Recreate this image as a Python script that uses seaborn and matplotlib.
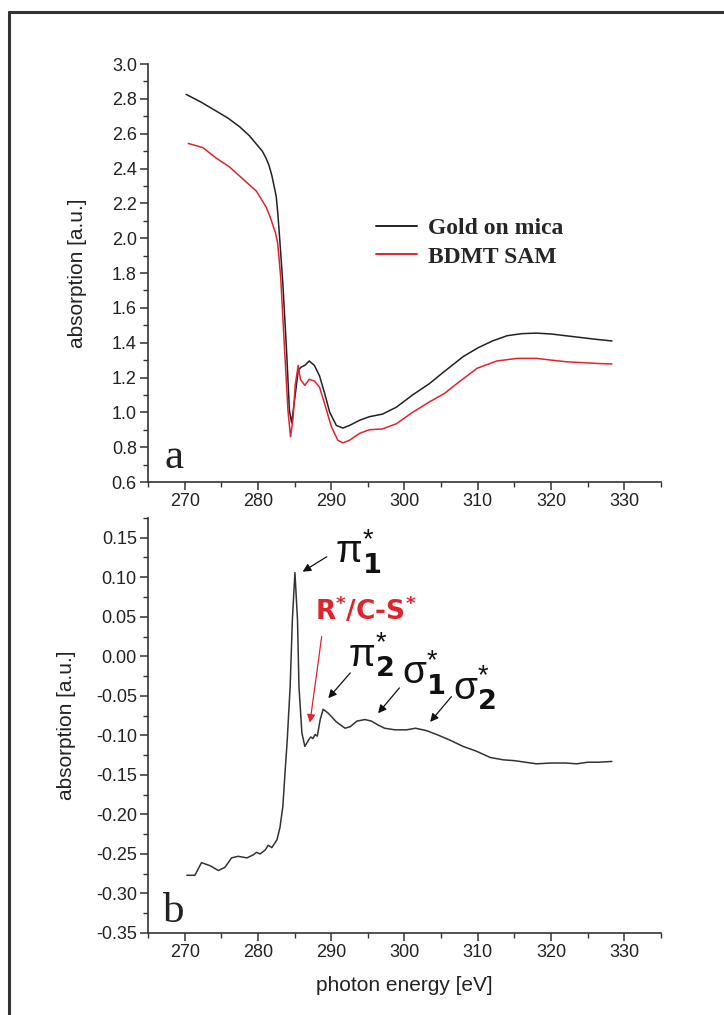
import numpy as np
import pandas as pd
import matplotlib
matplotlib.use("Agg")
import matplotlib.pyplot as plt
from matplotlib.lines import Line2D
from matplotlib.ticker import MultipleLocator, FormatStrFormatter
import seaborn as sns

# ---- panel a: raw absorption spectra ----
gold_energy = [270.2, 272.3, 274.3, 275.9, 277.5, 278.8, 279.8, 280.6, 281.1, 281.5,
               281.9, 282.2, 282.5, 282.7, 282.95, 283.4, 283.9, 284.3, 284.6, 285.0,
               285.5, 285.9, 286.4, 287.0, 287.7, 288.4, 289.1, 289.8, 290.7, 291.6,
               292.5, 293.9, 295.2, 297.0, 298.9, 301.1, 303.4, 305.0, 306.5, 308.0,
               310.0, 312.0, 314.0, 316.0, 318.0, 320.0, 322.0, 324.0, 326.0, 328.3]
gold_absorption = [2.826, 2.78, 2.73, 2.69, 2.64, 2.59, 2.54, 2.50, 2.46, 2.42,
                   2.36, 2.30, 2.24, 2.15, 2.01, 1.74, 1.36, 1.01, 0.94, 1.07,
                   1.24, 1.26, 1.27, 1.295, 1.27, 1.21, 1.11, 1.00, 0.925, 0.91,
                   0.925, 0.955, 0.975, 0.99, 1.03, 1.10, 1.165, 1.22, 1.27, 1.32,
                   1.37, 1.41, 1.44, 1.452, 1.455, 1.45, 1.44, 1.43, 1.42, 1.41]

sam_energy = [270.5, 272.5, 274.3, 276.1, 277.95, 279.8, 281.1, 281.6, 282.0, 282.4,
              282.7, 283.1, 283.6, 284.1, 284.45, 284.8, 285.1, 285.5, 285.8, 286.4,
              287.0, 287.7, 288.4, 289.1, 290.0, 290.9, 291.6, 292.5, 293.9, 295.2,
              297.0, 298.9, 301.1, 303.4, 305.5, 307.2, 309.9, 312.6, 315.4, 318.0,
              320.0, 322.2, 324.5, 326.7, 328.3]
sam_absorption = [2.544, 2.52, 2.46, 2.41, 2.34, 2.27, 2.18, 2.13, 2.08, 2.03,
                  1.97, 1.78, 1.39, 1.01, 0.86, 0.97, 1.16, 1.27, 1.19, 1.155,
                  1.19, 1.18, 1.145, 1.05, 0.92, 0.84, 0.825, 0.84, 0.88, 0.90,
                  0.905, 0.935, 1.00, 1.06, 1.11, 1.167, 1.253, 1.295, 1.31, 1.31,
                  1.30, 1.29, 1.285, 1.28, 1.278]

series_labels = ["Gold on mica", "BDMT SAM"]

# ---- panel b: normalised difference spectrum ----
diff_energy = [270.3, 271.4, 272.3, 273.5, 274.6, 275.5, 276.4, 277.3, 278.5, 279.4,
               279.8, 280.3, 281.0, 281.4, 281.9, 282.6, 283.0, 283.4, 283.7, 284.0,
               284.4, 284.7, 285.05, 285.4, 285.6, 286.0, 286.4, 286.9, 287.2, 287.5,
               287.8, 288.1, 288.5, 288.9, 289.6, 290.7, 291.9, 292.6, 293.5, 294.6,
               295.5, 296.4, 297.3, 298.7, 300.3, 301.5, 303.0, 304.4, 306.2, 308.0,
               309.8, 311.7, 313.5, 315.0, 316.5, 318.0, 320.0, 322.0, 323.5, 325.0,
               326.5, 328.3]
diff_absorption = [-0.277, -0.277, -0.261, -0.265, -0.271, -0.267, -0.255, -0.253, -0.255, -0.251,
                   -0.248, -0.250, -0.245, -0.239, -0.242, -0.232, -0.217, -0.190, -0.147, -0.106,
                   -0.038, 0.046, 0.106, 0.046, -0.038, -0.097, -0.114, -0.106, -0.102, -0.104,
                   -0.099, -0.101, -0.080, -0.067, -0.072, -0.083, -0.091, -0.089, -0.082, -0.080,
                   -0.082, -0.087, -0.091, -0.093, -0.093, -0.091, -0.094, -0.099, -0.106, -0.114,
                   -0.120, -0.128, -0.131, -0.132, -0.134, -0.136, -0.135, -0.135, -0.136, -0.134,
                   -0.134, -0.133]

x_ticks = [270, 280, 290, 300, 310, 320, 330]

# resonance labels: (text, text x, text baseline y, arrow tail, arrow head)
resonances = [
    (r"$\pi_{\mathbf{1}}^{*}$", 290.5, 0.118, (289.4, 0.126), (286.1, 0.107)),
    (r"$\pi_{\mathbf{2}}^{*}$", 292.3, -0.013, (292.6, -0.021), (289.6, -0.053)),
    (r"$\sigma_{\mathbf{1}}^{*}$", 299.7, -0.036, (299.3, -0.040), (296.4, -0.072)),
    (r"$\sigma_{\mathbf{2}}^{*}$", 306.6, -0.055, (306.4, -0.051), (303.5, -0.083)),
]
rydberg_label = ("R$^{*}$/C-S$^{*}$", 287.8, 0.046, (288.7, 0.025), (287.1, -0.084))

# ---- styling ----
sns.set_style("ticks")
plt.rcParams["font.family"] = ["Liberation Sans", "DejaVu Sans"]
plt.rcParams["axes.unicode_minus"] = False
plt.rcParams["mathtext.fontset"] = "dejavusans"
plt.rcParams["mathtext.default"] = "regular"

ink = "#222222"
red = "#e0242c"

fig = plt.figure(figsize=(7.24, 10.15), dpi=100)
ax_a = fig.add_axes([0.2044, 0.5251, 0.7086, 0.4118])
ax_b = fig.add_axes([0.2044, 0.0808, 0.7086, 0.4089])

df_a = pd.concat([
    pd.DataFrame({"energy": gold_energy, "absorption": gold_absorption, "sample": series_labels[0]}),
    pd.DataFrame({"energy": sam_energy, "absorption": sam_absorption, "sample": series_labels[1]}),
])
sns.lineplot(data=df_a, x="energy", y="absorption", hue="sample",
             palette={series_labels[0]: ink, series_labels[1]: red},
             linewidth=1.1, sort=False, estimator=None, ax=ax_a)

df_b = pd.DataFrame({"energy": diff_energy, "absorption": diff_absorption})
sns.lineplot(data=df_b, x="energy", y="absorption", color="#333333",
             linewidth=1.1, sort=False, estimator=None, ax=ax_b)

for ax, pad in ((ax_a, 17.5), (ax_b, 14)):
    sns.despine(ax=ax)
    ax.set_xlim(265, 335)
    ax.set_xticks(x_ticks)
    ax.xaxis.set_minor_locator(MultipleLocator(5))
    for side in ("left", "bottom"):
        ax.spines[side].set_linewidth(1.2)
        ax.spines[side].set_color("#333333")
    ax.tick_params(which="major", direction="out", length=6, width=1.1,
                   color="#333333", labelsize=13, labelcolor=ink, pad=2)
    ax.tick_params(which="minor", direction="out", length=3.5, width=1.0, color="#333333")
    ax.set_ylabel("absorption [a.u.]", fontsize=15, color=ink, labelpad=pad)

ax_a.set_ylim(0.6, 3.0)
ax_a.yaxis.set_major_locator(MultipleLocator(0.2))
ax_a.yaxis.set_minor_locator(MultipleLocator(0.1))
ax_a.yaxis.set_major_formatter(FormatStrFormatter("%.1f"))
ax_a.set_xlabel("")

ax_b.set_ylim(-0.35, 0.175)
ax_b.yaxis.set_major_locator(MultipleLocator(0.05))
ax_b.yaxis.set_minor_locator(MultipleLocator(0.025))
ax_b.yaxis.set_major_formatter(FormatStrFormatter("%.2f"))
ax_b.set_xlabel("photon energy [eV]", fontsize=15, color=ink, labelpad=11)

leg = ax_a.legend(loc="upper left", bbox_to_anchor=(0.444, 0.633), frameon=False,
                  borderpad=0, borderaxespad=0, handlelength=1.75, handletextpad=0.45,
                  labelspacing=0.3, prop={"family": "Liberation Serif", "weight": "bold", "size": 17})
for line in leg.get_lines():
    line.set_linewidth(1.4)

# panel letters
ax_a.text(267.3, 0.68, "a", family="Liberation Serif", fontsize=31, color=ink, va="baseline")
ax_b.text(267.0, -0.336, "b", family="Liberation Serif", fontsize=31, color=ink, va="baseline")

# resonance annotations
for text, tx, ty, tail, head in resonances:
    ax_b.text(tx, ty, text, fontsize=28, color="#111111", va="baseline", ha="left")
    ax_b.annotate("", xy=head, xytext=tail,
                  arrowprops=dict(arrowstyle="-|>", color="#111111", lw=0.9,
                                  mutation_scale=12, shrinkA=0, shrinkB=0))

text, tx, ty, tail, head = rydberg_label
ax_b.text(tx, ty, text, fontsize=19, color=red, fontweight="bold", va="baseline", ha="left",
          family="DejaVu Sans")
ax_b.annotate("", xy=head, xytext=tail,
              arrowprops=dict(arrowstyle="-|>", color=red, lw=0.9,
                              mutation_scale=12, shrinkA=0, shrinkB=0))

# frame edges of the figure panel
fig.add_artist(Line2D([9 / 724, 1.0], [1 - 12 / 1015, 1 - 12 / 1015],
                      transform=fig.transFigure, color="#333333", linewidth=2.2))
fig.add_artist(Line2D([9 / 724, 9 / 724], [0.0, 1 - 12 / 1015],
                      transform=fig.transFigure, color="#333333", linewidth=2.2))

fig.savefig("out.png", dpi=100)
